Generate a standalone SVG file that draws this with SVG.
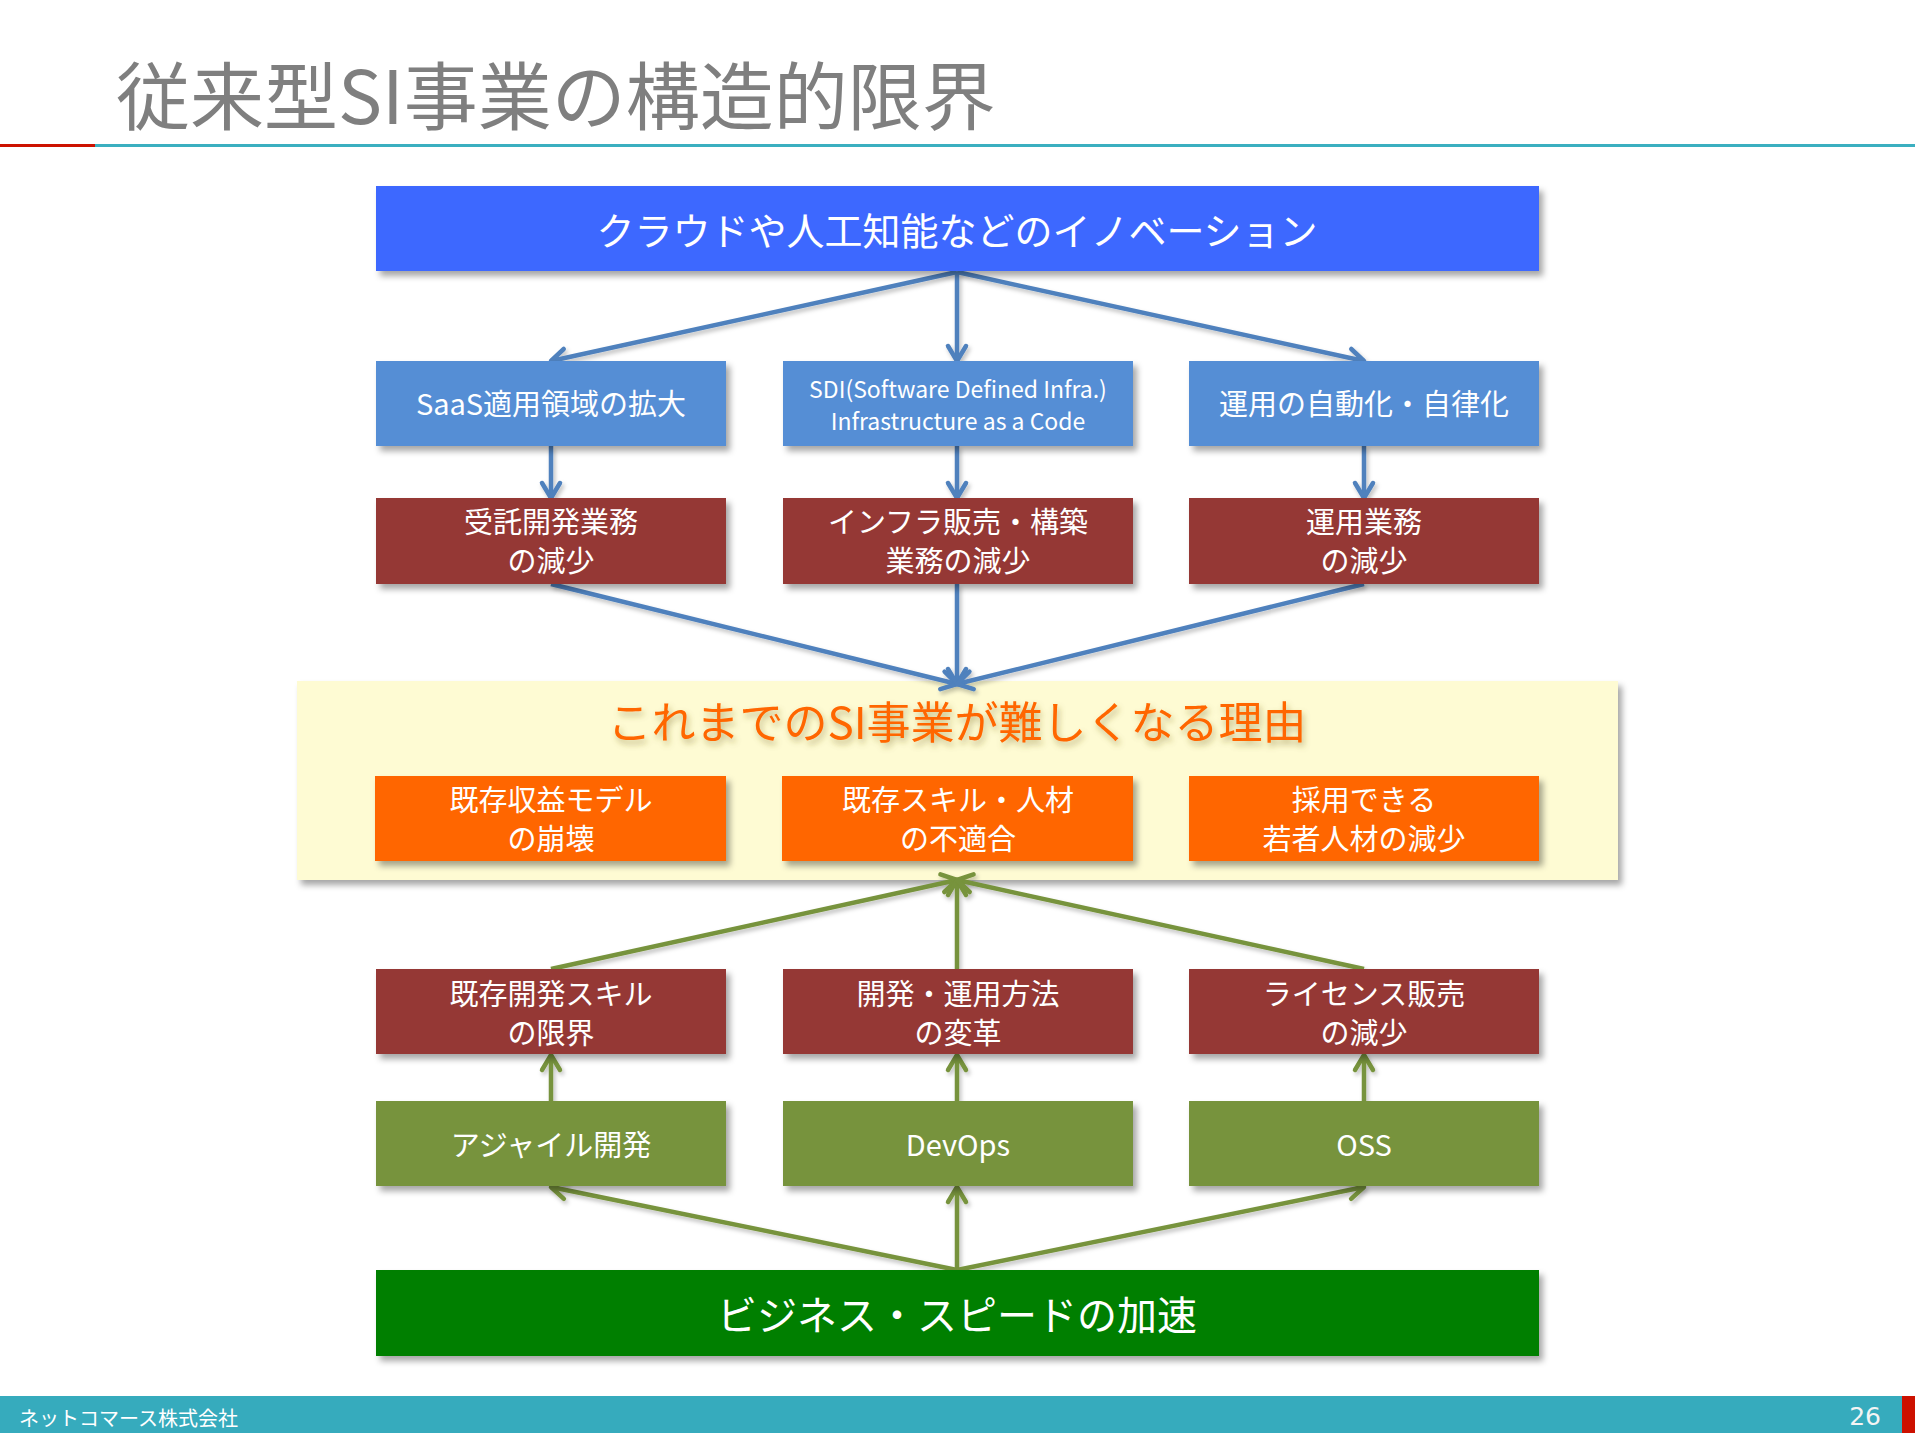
<svg xmlns="http://www.w3.org/2000/svg" width="1915" height="1433" viewBox="0 0 1915 1433">
<defs>
<style>
.t{font-family:"Noto Sans CJK JP","Noto Sans",sans-serif;fill:#fff;text-anchor:middle}
.b30{font-size:29px}
.sh{filter:url(#sh)}
.cb{fill:none;stroke:#4F81BD;stroke-width:4.5}
.cg{fill:none;stroke:#77933C;stroke-width:4.5}
</style>
<filter id="sh" x="-10%" y="-20%" width="130%" height="160%">
<feDropShadow dx="4" dy="5" stdDeviation="3" flood-color="#000" flood-opacity="0.35"/>
</filter>
<filter id="lsh" x="-10%" y="-10%" width="130%" height="130%">
<feDropShadow dx="2" dy="3" stdDeviation="2" flood-color="#000" flood-opacity="0.25"/>
</filter>
<filter id="tsh" x="-10%" y="-30%" width="120%" height="180%">
<feDropShadow dx="2" dy="4" stdDeviation="3" flood-color="#7a6a20" flood-opacity="0.45"/>
</filter>
<marker id="ab" markerUnits="userSpaceOnUse" viewBox="-20 -14 24 28" refX="0" refY="0" markerWidth="24" markerHeight="28" orient="auto" overflow="visible">
<path d="M-15,-9 L0,0 L-15,9" fill="none" stroke="#4F81BD" stroke-width="4.5" stroke-linecap="round" stroke-linejoin="round"/>
</marker>
<marker id="ag" markerUnits="userSpaceOnUse" viewBox="-20 -14 24 28" refX="0" refY="0" markerWidth="24" markerHeight="28" orient="auto" overflow="visible">
<path d="M-15,-9 L0,0 L-15,9" fill="none" stroke="#77933C" stroke-width="4.5" stroke-linecap="round" stroke-linejoin="round"/>
</marker>
</defs>

<rect width="1915" height="1433" fill="#fff"/>

<g id="title">
<text x="116" y="124" font-family="'Noto Sans CJK JP','Noto Sans',sans-serif" font-size="74" fill="#7F7F7F">従来型SI事業の構造的限界</text>
<rect x="0" y="144" width="95" height="3" fill="#CC1100"/>
<rect x="95" y="144" width="1820" height="3" fill="#3BAFC0"/>
</g>

<g id="panel">
<rect x="297" y="681" width="1321" height="199" fill="#FEFBD3" class="sh"/>
<text x="957" y="739" font-family="'Noto Sans CJK JP','Noto Sans',sans-serif" font-size="44" fill="#FF6600" text-anchor="middle" filter="url(#tsh)">これまでのSI事業が難しくなる理由</text>
</g>

<g id="connectors" filter="url(#lsh)">
<path class="cb" marker-end="url(#ab)" d="M957,272 L551,361"/>
<path class="cb" marker-end="url(#ab)" d="M957,272 L957,361"/>
<path class="cb" marker-end="url(#ab)" d="M957,272 L1364,361"/>
<path class="cb" marker-end="url(#ab)" d="M551,446 L551,498"/>
<path class="cb" marker-end="url(#ab)" d="M957,446 L957,498"/>
<path class="cb" marker-end="url(#ab)" d="M1364,446 L1364,498"/>
<path class="cb" marker-end="url(#ab)" d="M551,584 L957,684"/>
<path class="cb" marker-end="url(#ab)" d="M957,584 L957,684"/>
<path class="cb" marker-end="url(#ab)" d="M1364,584 L957,684"/>
<path class="cg" marker-end="url(#ag)" d="M551,969 L957,880"/>
<path class="cg" marker-end="url(#ag)" d="M957,969 L957,880"/>
<path class="cg" marker-end="url(#ag)" d="M1364,969 L957,880"/>
<path class="cg" marker-end="url(#ag)" d="M551,1101 L551,1055"/>
<path class="cg" marker-end="url(#ag)" d="M957,1101 L957,1055"/>
<path class="cg" marker-end="url(#ag)" d="M1364,1101 L1364,1055"/>
<path class="cg" marker-end="url(#ag)" d="M957,1270 L551,1187"/>
<path class="cg" marker-end="url(#ag)" d="M957,1270 L957,1187"/>
<path class="cg" marker-end="url(#ag)" d="M957,1270 L1364,1187"/>
</g>

<g id="n-innovation">
<rect x="376" y="186" width="1163" height="85" fill="#3D67FF" class="sh"/>
<text class="t" x="957" y="245" font-size="38">クラウドや人工知能などのイノベーション</text>
</g>

<g id="n-saas">
<rect x="376" y="361" width="350" height="85" fill="#558ED5" class="sh"/>
<text class="t" x="551" y="415" font-size="29">SaaS適用領域の拡大</text>
</g>
<g id="n-sdi">
<rect x="783" y="361" width="350" height="85" fill="#558ED5" class="sh"/>
<text class="t" font-size="23"><tspan x="958" y="398">SDI(Software Defined Infra.)</tspan><tspan x="958" y="430">Infrastructure as a Code</tspan></text>
</g>
<g id="n-auto">
<rect x="1189" y="361" width="350" height="85" fill="#558ED5" class="sh"/>
<text class="t" x="1364" y="415" font-size="29">運用の自動化・自律化</text>
</g>

<g id="n-jutaku">
<rect x="376" y="498" width="350" height="86" fill="#953735" class="sh"/>
<text class="t b30"><tspan x="551" y="533">受託開発業務</tspan><tspan x="551" y="572">の減少</tspan></text>
</g>
<g id="n-infra">
<rect x="783" y="498" width="350" height="86" fill="#953735" class="sh"/>
<text class="t b30"><tspan x="958" y="533">インフラ販売・構築</tspan><tspan x="958" y="572">業務の減少</tspan></text>
</g>
<g id="n-unyo">
<rect x="1189" y="498" width="350" height="86" fill="#953735" class="sh"/>
<text class="t b30"><tspan x="1364" y="533">運用業務</tspan><tspan x="1364" y="572">の減少</tspan></text>
</g>

<g id="n-model">
<rect x="375" y="776" width="351" height="85" fill="#FF6600" class="sh"/>
<text class="t b30"><tspan x="551" y="811">既存収益モデル</tspan><tspan x="551" y="850">の崩壊</tspan></text>
</g>
<g id="n-skill">
<rect x="782" y="776" width="351" height="85" fill="#FF6600" class="sh"/>
<text class="t b30"><tspan x="958" y="811">既存スキル・人材</tspan><tspan x="958" y="850">の不適合</tspan></text>
</g>
<g id="n-young">
<rect x="1189" y="776" width="350" height="85" fill="#FF6600" class="sh"/>
<text class="t b30"><tspan x="1364" y="811">採用できる</tspan><tspan x="1364" y="850">若者人材の減少</tspan></text>
</g>

<g id="n-devskill">
<rect x="376" y="969" width="350" height="85" fill="#953735" class="sh"/>
<text class="t b30"><tspan x="551" y="1005">既存開発スキル</tspan><tspan x="551" y="1044">の限界</tspan></text>
</g>
<g id="n-method">
<rect x="783" y="969" width="350" height="85" fill="#953735" class="sh"/>
<text class="t b30"><tspan x="958" y="1005">開発・運用方法</tspan><tspan x="958" y="1044">の変革</tspan></text>
</g>
<g id="n-license">
<rect x="1189" y="969" width="350" height="85" fill="#953735" class="sh"/>
<text class="t b30"><tspan x="1364" y="1005">ライセンス販売</tspan><tspan x="1364" y="1044">の減少</tspan></text>
</g>

<g id="n-agile">
<rect x="376" y="1101" width="350" height="85" fill="#77933C" class="sh"/>
<text class="t b30" x="551" y="1156">アジャイル開発</text>
</g>
<g id="n-devops">
<rect x="783" y="1101" width="350" height="85" fill="#77933C" class="sh"/>
<text class="t b30" x="958" y="1156">DevOps</text>
</g>
<g id="n-oss">
<rect x="1189" y="1101" width="350" height="85" fill="#77933C" class="sh"/>
<text class="t b30" x="1364" y="1156">OSS</text>
</g>

<g id="n-speed">
<rect x="376" y="1270" width="1163" height="86" fill="#007F00" class="sh"/>
<text class="t" x="957" y="1330" font-size="40">ビジネス・スピードの加速</text>
</g>

<g id="footer">
<rect x="0" y="1396" width="1915" height="37" fill="#36ABBD"/>
<rect x="1902" y="1396" width="13" height="37" fill="#CC1100"/>
<text x="19" y="1426" font-family="'Noto Sans CJK JP','Noto Sans',sans-serif" font-size="20" fill="#fff">ネットコマース株式会社</text>
<text x="1881" y="1425" font-family="'DejaVu Sans',sans-serif" font-size="25" fill="#F4F4F4" text-anchor="end">26</text>
</g>
</svg>
